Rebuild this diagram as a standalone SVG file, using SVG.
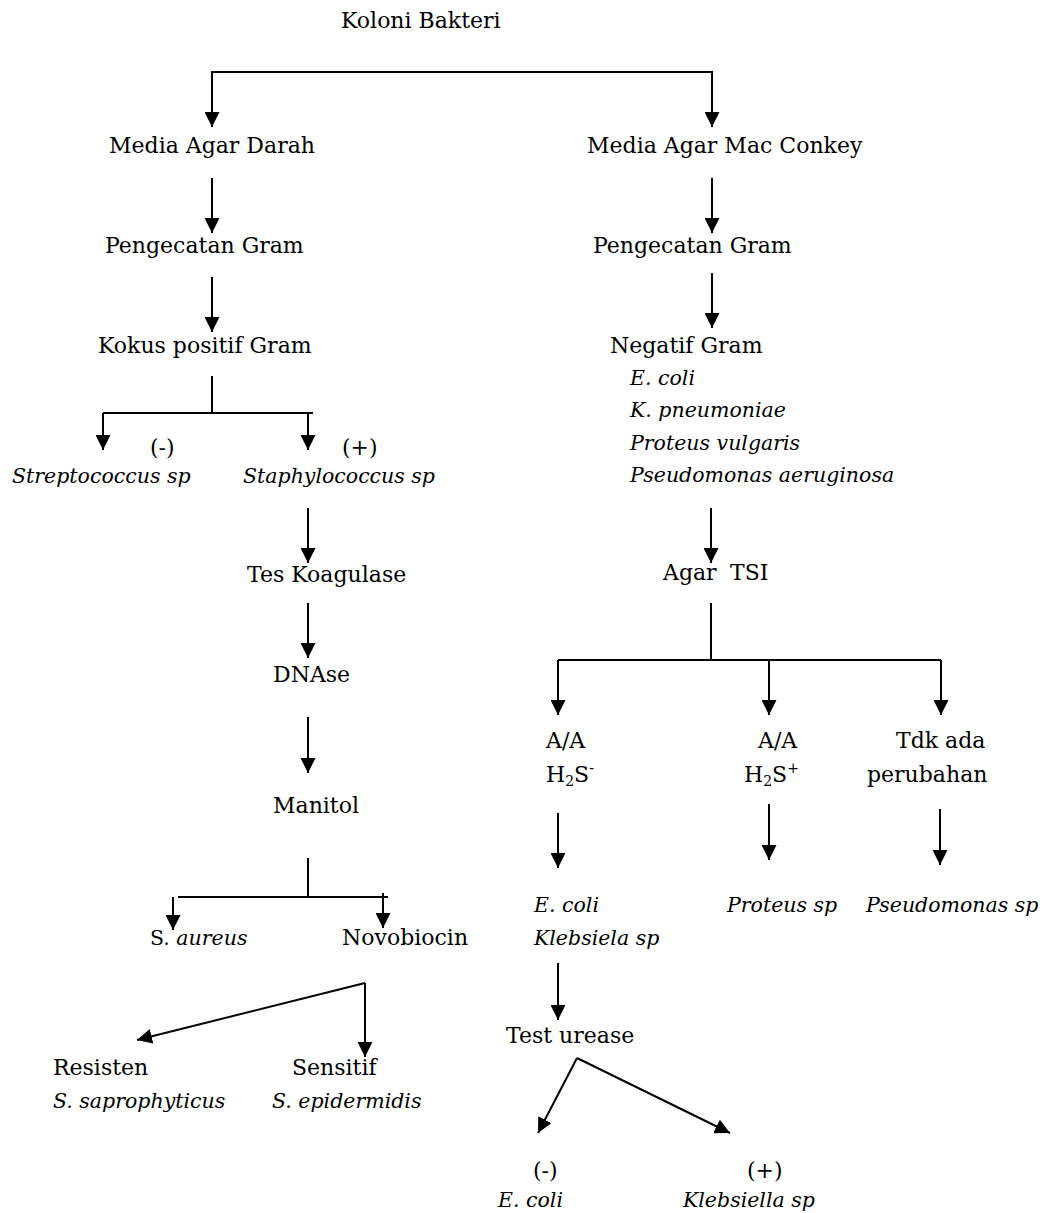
<svg xmlns="http://www.w3.org/2000/svg" width="1045" height="1213" viewBox="0 0 1045 1213">
<defs>
<marker id="ah" viewBox="0 0 15 15" refX="15" refY="7.5" markerWidth="15" markerHeight="15" markerUnits="userSpaceOnUse" orient="auto">
<path d="M0,0 L15,7.5 L0,15 z" fill="#000"/>
</marker>
<style>
text{font-family:"DejaVu Serif","Liberation Serif",serif;font-size:22px;fill:#000}
.i{font-style:italic;font-size:20.5px}
.c line,.c path{stroke:#000;stroke-width:2;fill:none}
.a{marker-end:url(#ah)}
.sub{font-size:14px}
</style>
</defs>
<rect width="1045" height="1213" fill="#fff"/>
<g class="c" id="connectors">
<path d="M212,127 V72 H712 V127" class="a"/>
<path d="M212,72 V127" class="a"/>
<line x1="212" y1="178" x2="212" y2="233" class="a"/>
<line x1="212" y1="277" x2="212" y2="332" class="a"/>
<line x1="712" y1="178" x2="712" y2="233" class="a"/>
<line x1="712" y1="273" x2="712" y2="328" class="a"/>
<path d="M212,376 V413"/>
<path d="M103,413 H313"/>
<line x1="103" y1="413" x2="103" y2="450" class="a"/>
<line x1="308" y1="413" x2="308" y2="450" class="a"/>
<line x1="308" y1="508" x2="308" y2="563" class="a"/>
<line x1="308" y1="603" x2="308" y2="658" class="a"/>
<line x1="308" y1="717" x2="308" y2="773" class="a"/>
<path d="M308,858 V897"/>
<path d="M178,897 H388"/>
<line x1="173" y1="897" x2="173" y2="930" class="a"/>
<line x1="383" y1="893" x2="383" y2="928" class="a"/>
<line x1="365" y1="983" x2="137" y2="1040" class="a"/>
<line x1="365" y1="983" x2="365" y2="1057" class="a"/>
<line x1="711" y1="508" x2="711" y2="563" class="a"/>
<path d="M711,603 V660"/>
<path d="M558,660 H941"/>
<line x1="558" y1="660" x2="558" y2="715" class="a"/>
<line x1="769" y1="660" x2="769" y2="715" class="a"/>
<line x1="941" y1="660" x2="941" y2="715" class="a"/>
<line x1="558" y1="813" x2="558" y2="868" class="a"/>
<line x1="769" y1="804" x2="769" y2="860" class="a"/>
<line x1="940" y1="809" x2="940" y2="865" class="a"/>
<line x1="558" y1="963" x2="558" y2="1020" class="a"/>
<line x1="577" y1="1058" x2="538" y2="1133" class="a"/>
<line x1="577" y1="1058" x2="730" y2="1133" class="a"/>
</g>
<g id="n-koloni"><text x="341" y="28">Koloni Bakteri</text></g>
<g id="n-darah"><text x="109" y="153">Media Agar Darah</text></g>
<g id="n-macconkey"><text x="587" y="153">Media Agar Mac Conkey</text></g>
<g id="n-gram-l"><text x="105" y="253">Pengecatan Gram</text></g>
<g id="n-gram-r"><text x="593" y="253">Pengecatan Gram</text></g>
<g id="n-kokus"><text x="98" y="353">Kokus positif Gram</text></g>
<g id="n-negatif">
<text x="610" y="353">Negatif Gram</text>
<text class="i" x="630" y="385">E. coli</text>
<text class="i" x="630" y="417">K. pneumoniae</text>
<text class="i" x="630" y="450">Proteus vulgaris</text>
<text class="i" x="630" y="482">Pseudomonas aeruginosa</text>
</g>
<g id="n-strep"><text x="150" y="455">(-)</text><text class="i" x="12" y="483">Streptococcus sp</text></g>
<g id="n-staph"><text x="342" y="455">(+)</text><text class="i" x="243" y="483">Staphylococcus sp</text></g>
<g id="n-koagulase"><text x="247" y="582">Tes Koagulase</text></g>
<g id="n-dnase"><text x="273" y="682">DNAse</text></g>
<g id="n-manitol"><text x="273" y="813">Manitol</text></g>
<g id="n-aureus"><text x="150" y="945"><tspan font-size="20.5">S. </tspan><tspan class="i">aureus</tspan></text></g>
<g id="n-novobiocin"><text x="342" y="945">Novobiocin</text></g>
<g id="n-resisten"><text x="53" y="1075">Resisten</text><text class="i" x="53" y="1108">S. saprophyticus</text></g>
<g id="n-sensitif"><text x="292" y="1075">Sensitif</text><text class="i" x="272" y="1108">S. epidermidis</text></g>
<g id="n-tsi"><text x="663" y="580">Agar</text><text x="730" y="580">TSI</text></g>
<g id="n-aa-neg"><text x="546" y="748">A/A</text><text x="546" y="782">H<tspan class="sub" dy="4">2</tspan><tspan dy="-4">S</tspan><tspan class="sub" dy="-9">-</tspan></text></g>
<g id="n-aa-pos"><text x="758" y="748">A/A</text><text x="744" y="782">H<tspan class="sub" dy="4">2</tspan><tspan dy="-4">S</tspan><tspan class="sub" dy="-9">+</tspan></text></g>
<g id="n-tdk"><text x="896" y="748">Tdk ada</text><text x="867" y="782">perubahan</text></g>
<g id="n-ecoli-kleb"><text class="i" x="534" y="912">E. coli</text><text class="i" x="534" y="945">Klebsiela sp</text></g>
<g id="n-proteus"><text class="i" x="727" y="912">Proteus sp</text></g>
<g id="n-pseudomonas"><text class="i" x="866" y="912">Pseudomonas sp</text></g>
<g id="n-urease"><text x="506" y="1043">Test urease</text></g>
<g id="n-ecoli"><text x="533" y="1178">(-)</text><text class="i" x="498" y="1207">E. coli</text></g>
<g id="n-klebsiella"><text x="747" y="1178">(+)</text><text class="i" x="683" y="1207">Klebsiella sp</text></g>
</svg>
